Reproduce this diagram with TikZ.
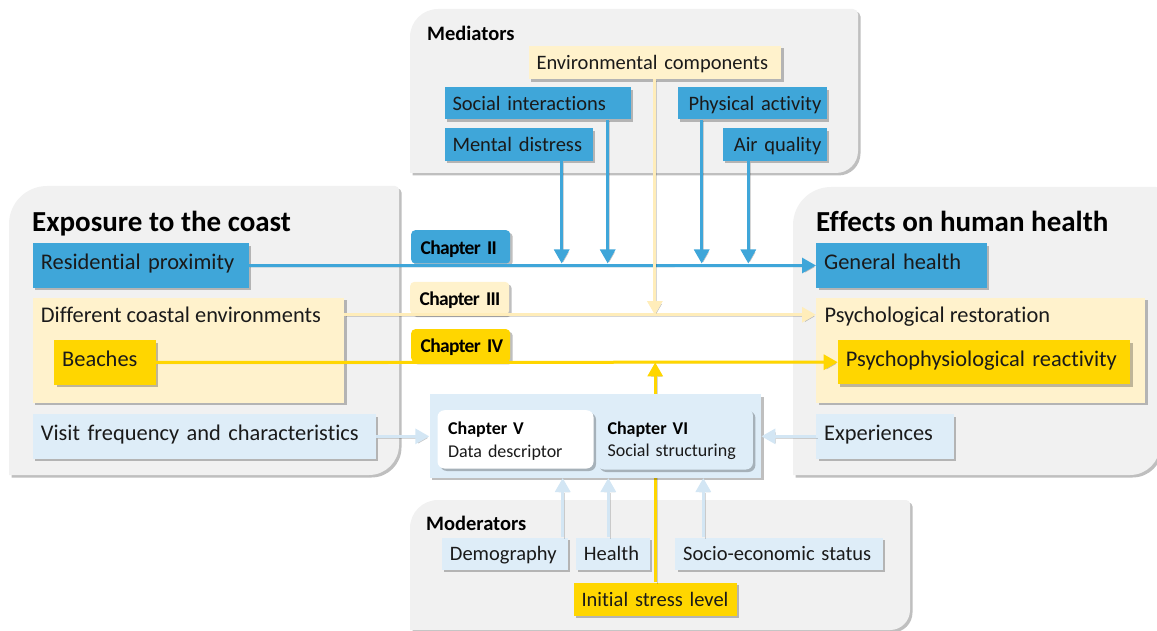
\documentclass[tikz,border=0pt]{standalone}
\usepackage{fontspec}
\setmainfont{Carlito}[Ligatures=NoCommon]
\newfontfamily\tabfont{Carlito}[Ligatures=NoCommon,LetterSpace=-3.5]
\usetikzlibrary{arrows.meta,shadows}
\definecolor{cblue}{HTML}{3FA6D9}
\definecolor{cly}{HTML}{FFF2CC}
\definecolor{clyline}{HTML}{FFEDBA}
\definecolor{cyel}{HTML}{FFD600}
\definecolor{clb}{HTML}{DEEDF8}
\definecolor{clbline}{HTML}{D3E6F4}
\definecolor{cpanel}{HTML}{F1F1F1}
\definecolor{ctxt}{HTML}{1A1A1A}
\pgfdeclarelayer{bg}\pgfdeclarelayer{lines}\pgfsetlayers{bg,lines,main}
\tikzset{
  sh/.style={drop shadow={shadow xshift=2.5pt,shadow yshift=-2.5pt,opacity=0.25,fill=black}},
  lsh/.style={preaction={draw=black, opacity=0.16, transform canvas={shift={(1.5pt,-1.5pt)}}}},
  panel/.style={fill=cpanel, sh},
  boxbase/.style={anchor=north west, inner xsep=8pt, inner ysep=0pt, text=ctxt, align=left, sh},
  sz/.style n args={2}{minimum width=#1pt, text width=#1pt-16pt, minimum height=#2pt},
  tsz/.style n args={2}{minimum width=#1pt, text width=#1pt-19pt, minimum height=#2pt},
  big/.style={boxbase, font=\fontsize{22.4}{26}\selectfont, text height=14.2pt, text depth=6.4pt},
  small/.style={boxbase, font=\fontsize{20.5}{24}\selectfont, text height=16pt, text depth=2pt},
  lbl/.style={anchor=base west, inner sep=0pt, text=ctxt, font=\fontsize{22.4}{26}\selectfont},
  title/.style={anchor=base west, inner sep=0pt, text=black},
  tab/.style={anchor=north west, inner xsep=9.5pt, inner ysep=0pt, rounded corners=4pt, font=\tabfont\bfseries\fontsize{19.5}{23}\selectfont, text=black, align=left, text height=16pt, text depth=1.4pt, sh},
  chap/.style={anchor=north west, inner xsep=10.6pt, inner ysep=0pt, rounded corners=7pt, align=left, font=\fontsize{18}{22.7}\selectfont, text=ctxt, minimum width=156pt, text width=134.8pt, text height=16pt, sh},
  arr/.style={-{Triangle[width=15pt,length=14pt]}},
  bline/.style={draw=cblue, line width=3pt, lsh},
  lyline/.style={draw=clyline, line width=3pt, lsh},
  yline/.style={draw=cyel, line width=3pt, lsh},
  lbline/.style={draw=clbline, line width=3pt, lsh}
}
\begin{document}
\begin{tikzpicture}[x=1pt,y=1pt]
\useasboundingbox (0,0) rectangle (1157,-631);
% panels
\begin{pgfonlayer}{bg}
\path[panel] (410,-173) -- (410,-37) arc[start angle=180,end angle=90,radius=28] -- (853,-9) arc[start angle=90,end angle=0,radius=5] -- (858,-151) arc[start angle=0,end angle=-90,radius=22] -- cycle;
\path[panel] (9,-475) -- (9,-224) arc[start angle=180,end angle=90,radius=38] -- (395,-186) arc[start angle=90,end angle=0,radius=4] -- (399,-445) arc[start angle=0,end angle=-90,radius=30] -- cycle;
\path[panel] (793,-475) -- (793,-225) arc[start angle=180,end angle=90,radius=38] -- (1156,-187) arc[start angle=90,end angle=0,radius=4] -- (1160,-445) arc[start angle=0,end angle=-90,radius=30] -- cycle;
\path[panel] (410,-630) -- (410,-528) arc[start angle=180,end angle=90,radius=28] -- (906,-500) arc[start angle=90,end angle=0,radius=4] -- (910,-610) arc[start angle=0,end angle=-90,radius=20] -- cycle;
\end{pgfonlayer}
% titles
\node[title, font=\bfseries\fontsize{29}{34}\selectfont] (texp) at (32,-231.7) {Exposure to the coast};
\node[title, font=\bfseries\fontsize{29}{34}\selectfont] (teff) at (816,-231.7) {Effects on human health};
\node[title, font=\bfseries\fontsize{20.5}{24}\selectfont] (tmed) at (427,-40.7) {Mediators};
\node[title, font=\bfseries\fontsize{20.5}{24}\selectfont] (tmod) at (426,-530) {Moderators};
% mediators
\node[small, sz={252.7}{33.3}, fill=cly] (ec) at (528.3,-45.7) {\mbox{Environmental components}};
\node[small, sz={186.4}{32}, fill=cblue] (si) at (444.3,-87.3) {\mbox{Social interactions}};
\node[small, sz={148}{32.7}, fill=cblue] (md) at (444.3,-128) {\mbox{Mental distress}};
\node[small, sz={149.4}{32}, fill=cblue] (pa) at (677.3,-87.3) {\mbox{\hspace*{3pt}Physical activity}};
\node[small, sz={104}{32.7}, fill=cblue] (aq) at (722.7,-128) {\mbox{\hspace*{3pt}Air quality}};
% exposure
\node[big, sz={215.6}{44.4}, fill=cblue] (rp) at (32.7,-243.3) {\mbox{Residential proximity}};
\node[big, sz={311.3}{105.4}, fill=cly] (dce) at (32.7,-297.3) {};
\node[lbl] (dcel) at (40.7,-322.5) {Different coastal environments};
\node[big, sz={101.7}{44.3}, fill=cyel] (bch) at (54,-340) {\mbox{Beaches}};
\node[big, sz={343}{44.3}, fill=clb] (vf) at (32.7,-414) {\mbox{Visit frequency and characteristics}};
% effects
\node[big, sz={170.7}{44}, fill=cblue] (gh) at (816,-243.3) {\mbox{General health}};
\node[big, sz={329}{105.4}, fill=cly] (psr) at (816,-297.3) {};
\node[lbl] (psrl) at (824.3,-322.5) {Psychological restoration};
\node[big, sz={292.3}{44}, fill=cyel] (ppr) at (837.7,-340) {\mbox{Psychophysiological reactivity}};
\node[big, sz={137.3}{44.3}, fill=clb] (ex) at (816,-414) {\mbox{Experiences}};
% chapter tabs
\node[tab, tsz={99}{33.3}, fill=cblue] (t2) at (411,-230) {\mbox{Chapter II}};
\node[tab, tsz={99}{32.6}, fill=cly] (t3) at (410,-281.7) {\mbox{Chapter III}};
\node[tab, tsz={99}{32.7}, fill=cyel] (t4) at (411,-329) {\mbox{Chapter IV}};
% moderators
\node[small, sz={126}{32}, fill=clb] (dem) at (441.7,-537.3) {\mbox{Demography}};
\node[small, sz={74}{32}, fill=clb] (hl) at (575.7,-537.3) {\mbox{Health}};
\node[small, sz={207.7}{32}, fill=clb] (ses) at (675,-537.3) {\mbox{Socio-economic status}};
\node[small, sz={163.4}{33.4}, fill=cyel] (isl) at (573.3,-582.3) {\mbox{Initial stress level}};
% yellow moderator arrow, behind the chapter box
\draw[yline, arr] (isl.north) -- (isl.north |- bch.east);
% chapter box
\node[anchor=north west, minimum width=331.7pt, minimum height=83.7pt, fill=clb, sh, inner sep=0pt] (chbox) at (429.3,-394) {};
\node[chap, minimum height=58.3pt, fill=white] (ch5) at (437.3,-410) {\textbf{\color{black}Chapter V}\\Data descriptor};
\node[chap, minimum height=61pt, fill=clb] (ch6) at (596.7,-408.3) {\textbf{\color{black}Chapter VI}\\Social structuring};
% connectors
\coordinate (m1) at (561.7,-263.5);
\coordinate (m2) at (607.7,-263.5);
\coordinate (m3) at (701.7,-263.5);
\coordinate (m4) at (748.3,-263.5);
\coordinate (e1) at (655,-315);
\coordinate (d1) at (562.7,-478);
\coordinate (d2) at (608.3,-478);
\coordinate (d3) at (703.3,-478);
\draw[bline, arr] (rp.east) -- (gh.west);
\draw[bline, arr] (md.south -| m1) -- (m1);
\draw[bline, arr] (si.south -| m2) -- (m2);
\draw[bline, arr] (pa.south -| m3) -- (m3);
\draw[bline, arr] (aq.south -| m4) -- (m4);
\draw[lyline, arr] (dce.east |- dcel) -- (psr.west |- dcel);
\draw[lyline, arr] (ec.south) -- (ec.south |- e1);
\draw[yline, arr] (bch.east) -- (ppr.west);
\draw[lbline, arr] (vf.east) -- (vf.east -| chbox.west);
\draw[lbline, arr] (ex.west) -- (ex.west -| chbox.east);
\draw[lbline, arr] (dem.north -| d1) -- (d1);
\draw[lbline, arr] (hl.north -| d2) -- (d2);
\draw[lbline, arr] (ses.north -| d3) -- (d3);
\end{tikzpicture}
\end{document}
